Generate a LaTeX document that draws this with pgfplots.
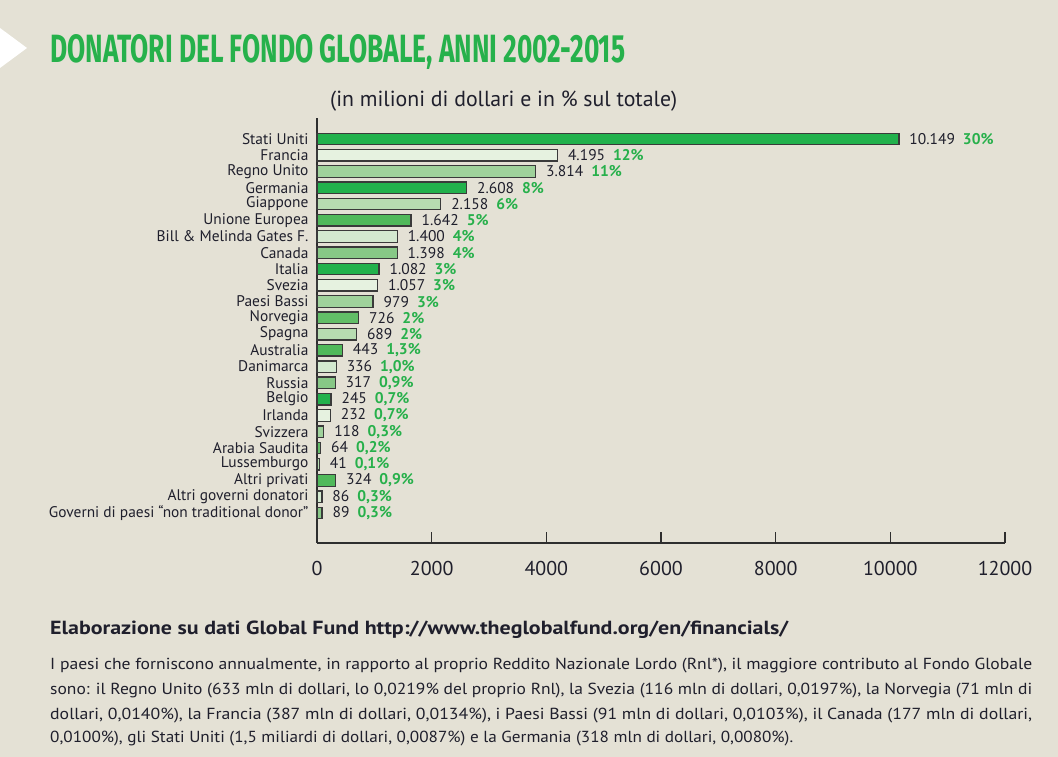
\documentclass[border=0pt]{standalone}
\usepackage{pgfplots}
\pgfplotsset{compat=1.18}
\usepackage{fontspec}
\setmainfont{PT Sans}
\newfontfamily\titlefont{Fira Sans}
\definecolor{bg}{HTML}{E4E1D5}
\definecolor{txt}{HTML}{1F1F2C}
\definecolor{titlegreen}{HTML}{26B14B}
\definecolor{pctgreen}{HTML}{27B04B}
\definecolor{axisc}{HTML}{2E2E2E}
\definecolor{bardraw}{HTML}{3A3A3A}
\definecolor{cdark}{HTML}{22B14C}
\definecolor{cvlight}{HTML}{E6F2E0}
\definecolor{cmed}{HTML}{9FD29B}
\definecolor{clight}{HTML}{B7DCB1}
\definecolor{cmdark}{HTML}{50B95A}
\definecolor{clightish}{HTML}{D3E9CF}
\definecolor{cmedtwo}{HTML}{87C886}
\definecolor{cfour}{HTML}{62BE67}
\newcommand\pct[1]{\hspace{8pt}\textcolor{pctgreen}{\bfseries #1}}
\begin{document}
\begin{tikzpicture}[x=1pt,y=1pt]
\fill[bg] (0,0) rectangle (1058,757);
\useasboundingbox (0,0) rectangle (1058,757);
\fill[white] (0,729) -- (27,709) -- (0,689) -- cycle;
\node[anchor=base west, inner sep=0, text=titlegreen] at (50,694) {\resizebox{575pt}{28pt}{\titlefont\bfseries DONATORI DEL FONDO GLOBALE, ANNI 2002-2015}};
\node[anchor=west, inner sep=0, text=txt] at (330,656) {\fontsize{21.8}{24}\selectfont (in milioni di dollari e in \% sul totale)};
\begin{axis}[
  at={(317pt,214pt)}, anchor=south west, scale only axis,
  width=688pt, height=425pt,
  xmin=0, xmax=12000, ymin=-1.845, ymax=24.29,
  axis x line=bottom, axis y line=left,
  axis line style={draw=axisc, line width=1.5pt, -},
  xtick={0,2000,...,12000}, tick align=inside, major tick length=11pt,
  xtick style={draw=axisc, line width=1.2pt},
  scaled x ticks=false,
  /pgf/number format/assume math mode=true,
  /pgf/number format/1000 sep={},
  xticklabel style={font=\fontsize{20}{22}\selectfont, text=txt, yshift=-15pt},
  ytick={0,...,23},
  yticklabels={Governi di paesi “non traditional donor”, Altri governi donatori, Altri privati, Lussemburgo, Arabia Saudita, Svizzera, Irlanda, Belgio, Russia, Danimarca, Australia, Spagna, Norvegia, Paesi Bassi, Svezia, Italia, Canada, Bill \& Melinda Gates F., Unione Europea, Giappone, Germania, Regno Unito, Francia, Stati Uniti},
  ytick style={draw=none},
  yticklabel style={font=\fontsize{15.4}{17}\selectfont, text=txt, xshift=6pt},
  clip=false,
  xbar,
  mybar/.style={xbar, fill=#1, draw=bardraw, line width=1.3pt, bar shift=0pt, bar width=11.5pt},
]
\addplot[mybar=cdark] coordinates {(10149,23)};
\addplot[mybar=cvlight] coordinates {(4195,22)};
\addplot[mybar=cmed] coordinates {(3814,21)};
\addplot[mybar=cdark] coordinates {(2608,20)};
\addplot[mybar=clight] coordinates {(2158,19)};
\addplot[mybar=cmdark] coordinates {(1642,18)};
\addplot[mybar=clightish] coordinates {(1400,17)};
\addplot[mybar=cmedtwo] coordinates {(1398,16)};
\addplot[mybar=cdark] coordinates {(1082,15)};
\addplot[mybar=cvlight] coordinates {(1057,14)};
\addplot[mybar=cmed] coordinates {(979,13)};
\addplot[mybar=cfour] coordinates {(726,12)};
\addplot[mybar=clight] coordinates {(689,11)};
\addplot[mybar=cmdark] coordinates {(443,10)};
\addplot[mybar=clightish] coordinates {(336,9)};
\addplot[mybar=cmedtwo] coordinates {(317,8)};
\addplot[mybar=cdark] coordinates {(245,7)};
\addplot[mybar=cvlight] coordinates {(232,6)};
\addplot[mybar=cmed] coordinates {(118,5)};
\addplot[mybar=cfour] coordinates {(64,4)};
\addplot[mybar=clight] coordinates {(41,3)};
\addplot[mybar=cmdark] coordinates {(324,2)};
\addplot[mybar=clightish] coordinates {(86,1)};
\addplot[mybar=cmedtwo] coordinates {(89,0)};
\addplot[xbar, draw=none, fill=none, bar shift=0pt, bar width=11.5pt,
  point meta=explicit symbolic, nodes near coords={\pgfplotspointmeta},
  every node near coord/.append style={anchor=west, xshift=7pt, text=txt, font=\fontsize{15.5}{17}\selectfont}]
coordinates {
(10149,23) [{10.149\pct{30\%}}]
(4195,22) [{4.195\pct{12\%}}]
(3814,21) [{3.814\pct{11\%}}]
(2608,20) [{2.608\pct{8\%}}]
(2158,19) [{2.158\pct{6\%}}]
(1642,18) [{1.642\pct{5\%}}]
(1400,17) [{1.400\pct{4\%}}]
(1398,16) [{1.398\pct{4\%}}]
(1082,15) [{1.082\pct{3\%}}]
(1057,14) [{1.057\pct{3\%}}]
(979,13) [{979\pct{3\%}}]
(726,12) [{726\pct{2\%}}]
(689,11) [{689\pct{2\%}}]
(443,10) [{443\pct{1,3\%}}]
(336,9) [{336\pct{1,0\%}}]
(317,8) [{317\pct{0,9\%}}]
(245,7) [{245\pct{0,7\%}}]
(232,6) [{232\pct{0,7\%}}]
(118,5) [{118\pct{0,3\%}}]
(64,4) [{64\pct{0,2\%}}]
(41,3) [{41\pct{0,1\%}}]
(324,2) [{324\pct{0,9\%}}]
(86,1) [{86\pct{0,3\%}}]
(89,0) [{89\pct{0,3\%}}]
};
\end{axis}
\node[anchor=base west, inner sep=0, text=txt] at (50,122) {\resizebox{738pt}{\height}{\fontsize{19}{22}\selectfont\bfseries Elaborazione su dati Global Fund http://www.theglobalfund.org/en/financials/}};
\node[anchor=base west, inner sep=0, text=txt] at (50,87) {\resizebox{982pt}{\height}{\fontsize{16}{18}\selectfont I paesi che forniscono annualmente, in rapporto al proprio Reddito Nazionale Lordo (Rnl*), il maggiore contributo al Fondo Globale}};
\node[anchor=base west, inner sep=0, text=txt] at (50,62) {\resizebox{982pt}{\height}{\fontsize{16}{18}\selectfont sono: il Regno Unito (633 mln di dollari, lo 0,0219\% del proprio Rnl), la Svezia (116 mln di dollari, 0,0197\%), la Norvegia (71 mln di}};
\node[anchor=base west, inner sep=0, text=txt] at (50,37) {\resizebox{982pt}{\height}{\fontsize{16}{18}\selectfont dollari, 0,0140\%), la Francia (387 mln di dollari, 0,0134\%), i Paesi Bassi (91 mln di dollari, 0,0103\%), il Canada (177 mln di dollari,}};
\node[anchor=base west, inner sep=0, text=txt] at (50,14) {\resizebox{743pt}{\height}{\fontsize{16}{18}\selectfont 0,0100\%), gli Stati Uniti (1,5 miliardi di dollari, 0,0087\%) e la Germania (318 mln di dollari, 0,0080\%).}};
\end{tikzpicture}
\end{document}
